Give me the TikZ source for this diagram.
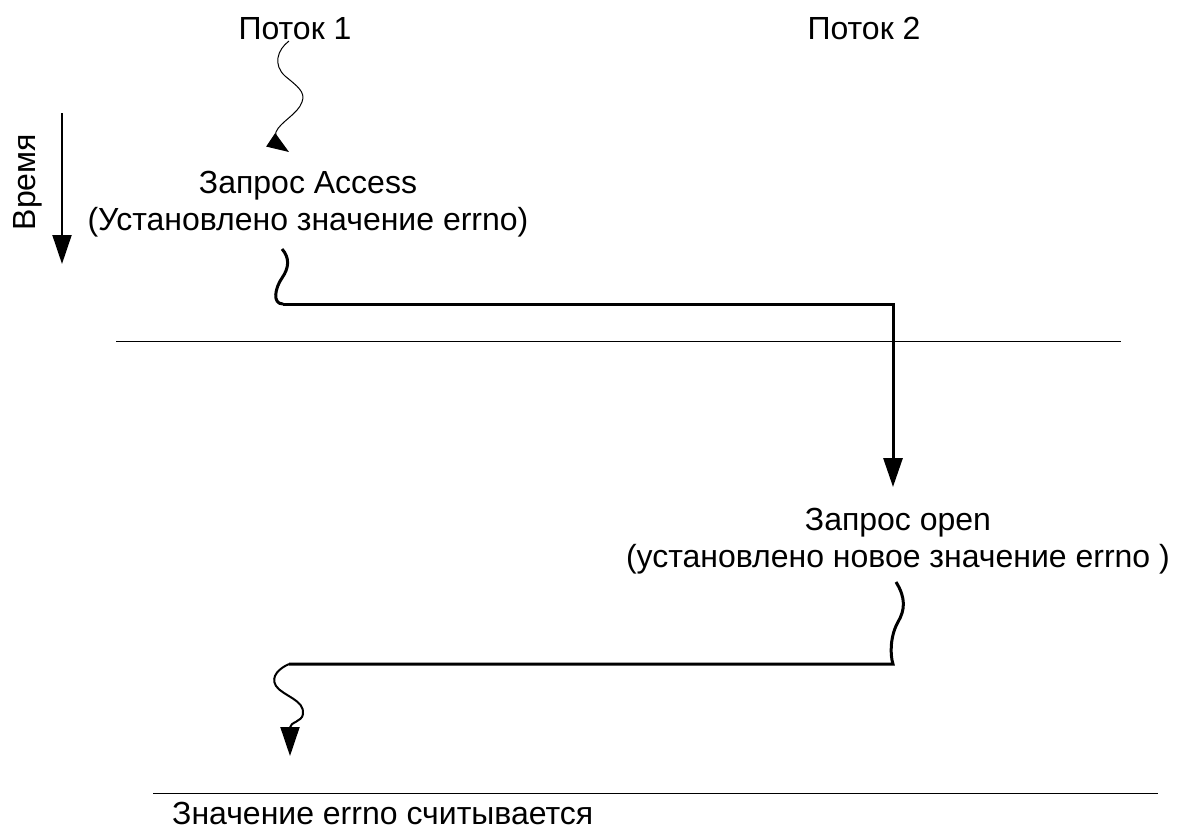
\documentclass[tikz,border=0pt]{standalone}
\usepackage{fontspec}
\setmainfont{Liberation Sans}
\usetikzlibrary{arrows.meta}
\begin{document}
\begin{tikzpicture}[x=1pt,y=-1pt,
  lbl/.style={inner sep=0pt,anchor=base,font=\fontsize{32}{37}\selectfont},
  thick line/.style={line width=3pt,line join=miter},
  thin line/.style={line width=1pt},
  bigtip/.style={-{Triangle[length=29pt,width=19pt]}},
  smalltip/.style={-{Triangle[length=22pt,width=16pt]}}]
\useasboundingbox (0,0) rectangle (1191,831);
% labels
\node[lbl] (t1) at (295,39) {Поток 1};
\node[lbl] (t2) at (864,39) {Поток 2};
\node[lbl,rotate=90] (time) at (35,182) {Время};
\node[lbl] (acc1) at (308,193) {Запрос Access};
\node[lbl] (acc2) at (308,230) {(Установлено значение errno)};
\node[lbl] (open1) at (898,530) {Запрос open};
\node[lbl] (open2) at (898,567) {(установлено новое значение errno )};
\node[lbl,anchor=base west] (read) at (172,824) {Значение errno считывается};
% time arrow
\coordinate (ts) at (62,113);
\coordinate (te) at (62,264);
\draw[line width=2pt,bigtip] (ts) -- (te);
% thread 1 start squiggle
\coordinate (s1) at (289,41);
\coordinate (s1e) at (289,152);
\draw[line width=1pt,smalltip] (s1) .. controls (277,50) and (273,65) .. (285,76)
  .. controls (297,86) and (306,92) .. (302,102)
  .. controls (298,114) and (280,122) .. (276,132) .. controls (274,138) and (280,146) .. (s1e);
% separators
\coordinate (h1a) at (116,341);
\coordinate (h1b) at (1121,341);
\draw[thin line] (h1a) -- (h1b);
\coordinate (h2a) at (153,793);
\coordinate (h2b) at (1158,793);
\draw[thin line] (h2a) -- (h2b);
% access -> open
\coordinate (a0) at (282,249);
\coordinate (a1) at (283,304);
\coordinate (a2) at (893,304);
\coordinate (a3) at (893,487);
\draw[thick line] (a0) .. controls (290,258) and (289,268) .. (282,278)
  .. controls (275,288) and (272,304) .. (a1);
\draw[thick line,bigtip] (a1) -- (a2) -- (a3);
% open -> read
\coordinate (b0) at (896,582);
\coordinate (b1) at (893,664);
\coordinate (b2) at (289,664);
\coordinate (b3) at (290,756);
\draw[thick line] (b0) .. controls (906,598) and (905,610) .. (898,622)
  .. controls (890,636) and (890,655) .. (b1) -- (b2);
\draw[line width=2pt,bigtip] (b2) .. controls (280,668) and (270,676) .. (276,686)
  .. controls (283,696) and (305,700) .. (303,714)
  .. controls (302,722) and (290,722) .. (b3);
\end{tikzpicture}
\end{document}
